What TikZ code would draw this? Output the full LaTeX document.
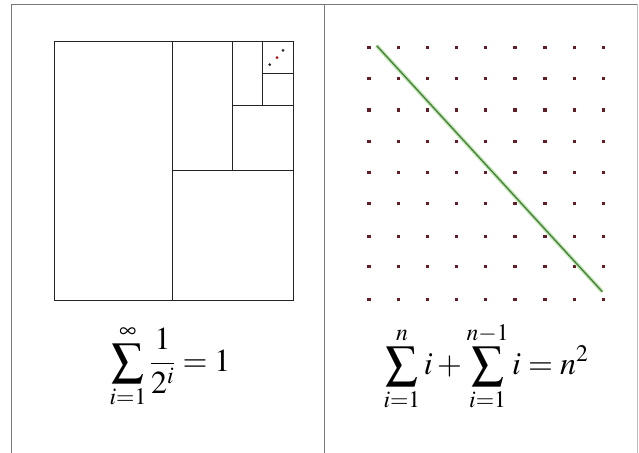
\documentclass[tikz,border=0pt]{standalone}
\usepackage{mathptmx}
\definecolor{frame}{RGB}{120,120,120}
\definecolor{ink}{RGB}{35,35,35}
\definecolor{dotc}{RGB}{100,28,38}
\definecolor{glow}{RGB}{175,220,160}
\definecolor{lineg}{RGB}{70,135,55}
\tikzset{
  panel/.style={draw=frame, line width=1.6pt},
  box/.style={draw=ink, line width=1.4pt},
  gdot/.style={fill=dotc, draw=none},
  formula/.style={inner sep=0pt, font=\fontsize{32}{38}\selectfont}
}
\begin{document}
\begin{tikzpicture}[x=1pt,y=-1pt]
\useasboundingbox (0,0) rectangle (639,452);
% frame
\draw[panel] (11.5,460) -- (11.5,4.5) -- (637,4.5);
\draw[draw=frame!50, line width=0.8pt] (637,4.5) -- (637,460);
\draw[panel] (324.5,4.5) -- (324.5,460);
% left square subdivision
\draw[box] (54.5,41.5) rectangle (293.5,300.5);
\draw[box] (172.5,41.5) -- (172.5,300.5);
\draw[box] (172.5,170.5) -- (293.5,170.5);
\draw[box] (232.5,41.5) -- (232.5,170.5);
\draw[box] (232.5,105.5) -- (293.5,105.5);
\draw[box] (262.5,41.5) -- (262.5,105.5);
\draw[box] (262.5,73.5) -- (293.5,73.5);
\coordinate (d1) at (283,50.3);
\coordinate (d2) at (277,57.7);
\coordinate (d3) at (269.7,64.7);
\fill[ink] (d1) circle (1.5);
\fill[red!70!black] (d2) circle (1.5);
\fill[ink] (d3) circle (1.5);
% right grid of dots
\foreach \x in {369,398.3,427.7,456.7,485.7,515,545,574.3,603.7}{
  \foreach \y in {47.3,78.7,110,141.3,172.7,203.3,236.7,266.7,299.3}{
    \fill[gdot] (\x-1.7,\y-1.7) rectangle (\x+1.7,\y+1.7);
  }
}
\coordinate (gA) at (376.7,45.7);
\coordinate (gB) at (602.3,291.7);
\draw[glow, line width=4pt, opacity=0.7] (gA) -- (gB);
\draw[lineg, line width=1.4pt] (gA) -- (gB);
% formulas
\node[formula] (f1) at (170,366) {$\displaystyle\sum_{i=1}^{\infty}\frac{1}{2^{i}}=1$};
\node[formula] (f2) at (486,366) {$\displaystyle\sum_{i=1}^{n} i+\sum_{i=1}^{n-1} i=n^{2}$};
\end{tikzpicture}
\end{document}
